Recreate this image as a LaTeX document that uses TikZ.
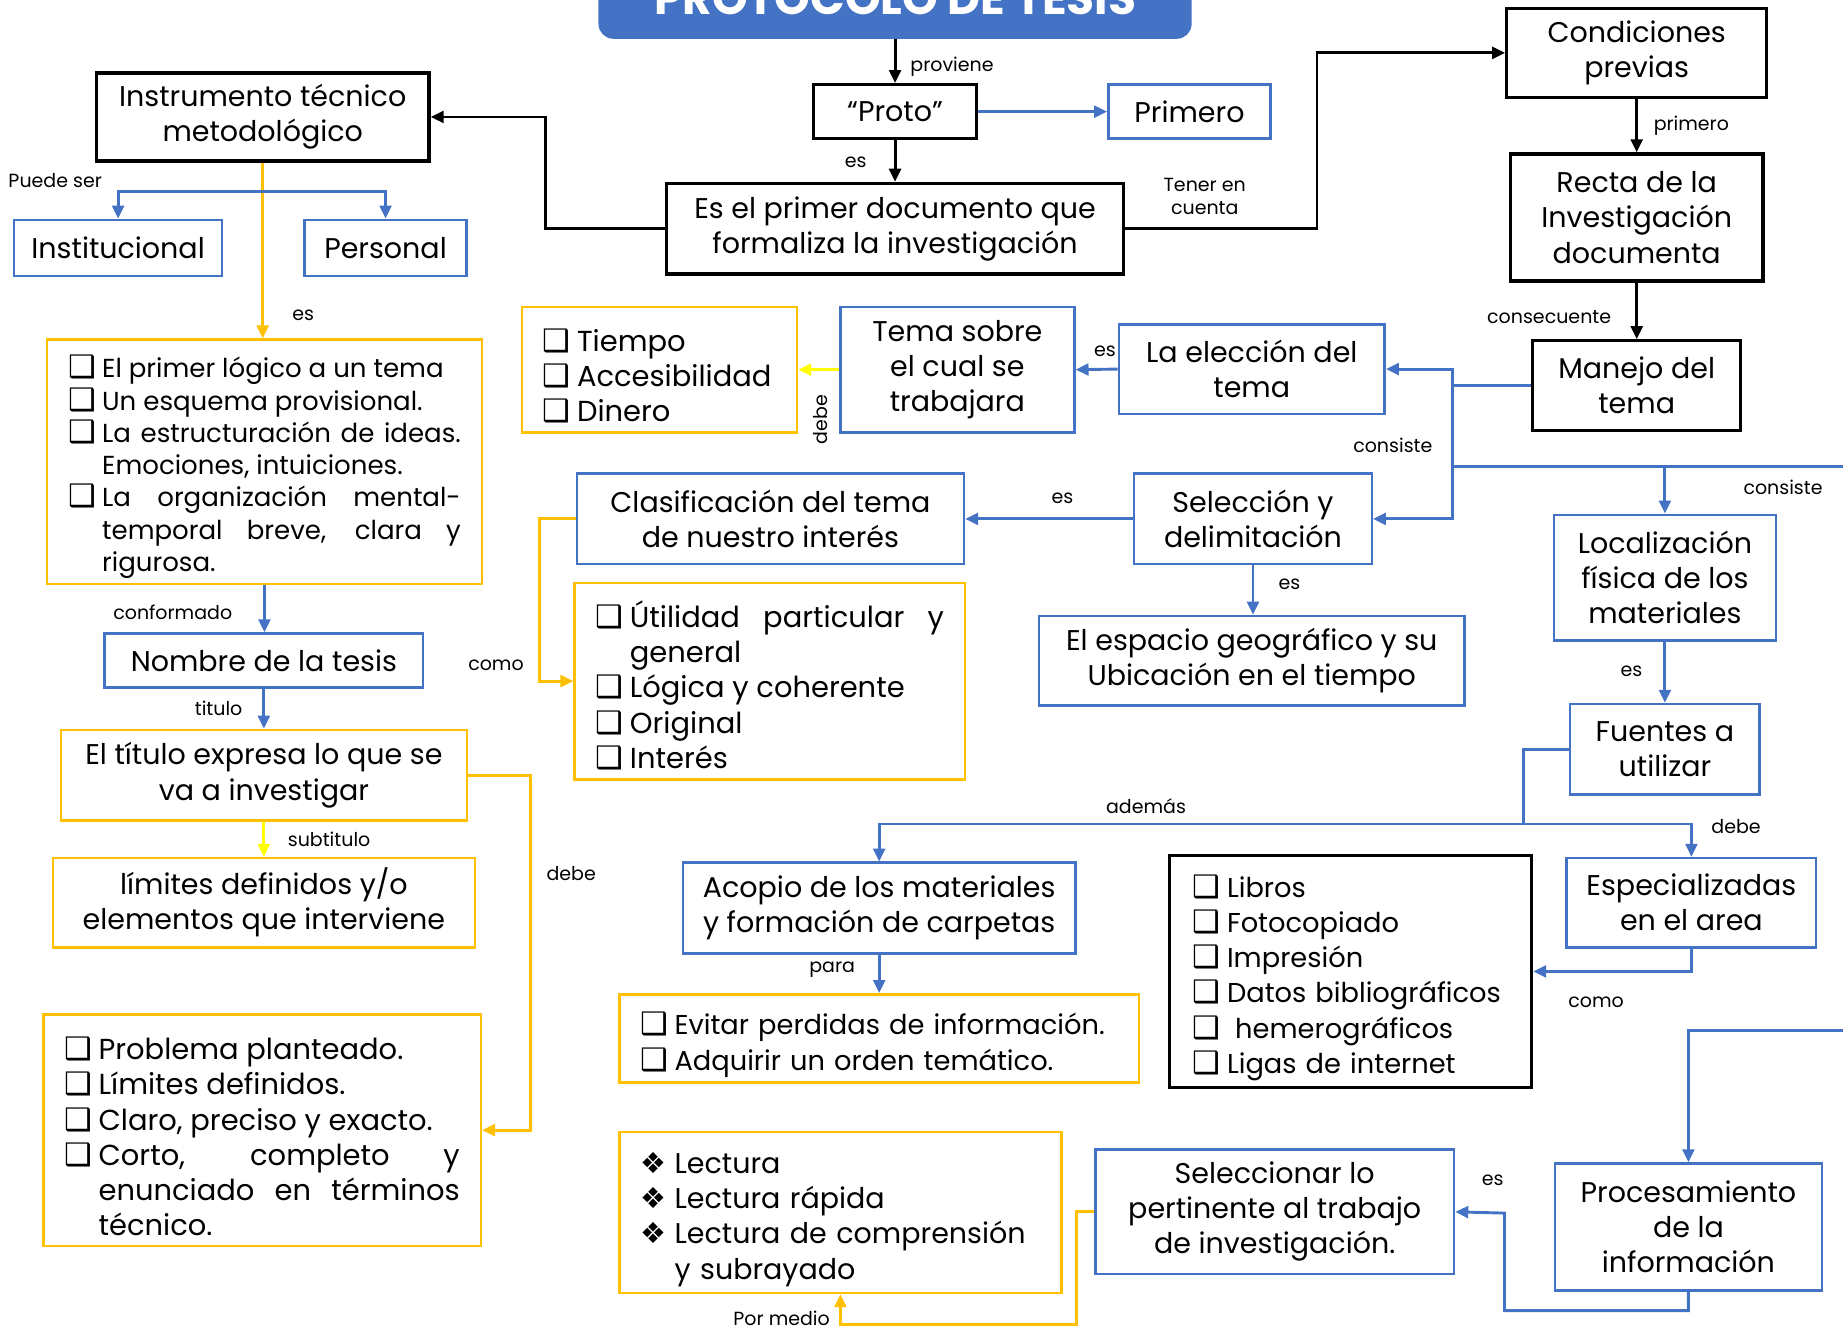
\documentclass[tikz,border=0pt]{standalone}
\usepackage{fontspec}
\setmainfont{Poppins}
\newfontfamily\simbolos{DejaVu Sans}
\usetikzlibrary{arrows.meta,calc}
\definecolor{azul}{RGB}{68,114,196}
\definecolor{naranja}{RGB}{255,192,0}
\definecolor{amarillo}{RGB}{255,255,0}
\tikzset{
  box/.style={
    draw,
    align=center,
    inner sep=0pt,
    line width=0.6pt,
    font=\fontsize{6.9}{8.5}\selectfont
  },
  box-black/.style={box, draw=black, line width=0.8pt},
  box-blue/.style={box, draw=azul},
  box-orange/.style={box, draw=naranja},
  list-orange/.style={box-orange, align=left, inner xsep=1.8mm},
  list-black/.style={box-black, align=left, inner xsep=2mm},
  title-box/.style={fill=azul, draw=azul, rounded corners=1.2mm, text=white, inner sep=0pt,
    minimum width=50.3mm, minimum height=6.7mm, font=\fontsize{11}{13}\selectfont\bfseries},
  link/.style={line width=0.7pt, -{Triangle[length=1.1mm, width=1mm]}},
  link-black/.style={link, draw=black},
  link-blue/.style={link, draw=azul},
  link-orange/.style={link, draw=naranja},
  link-yellow/.style={link, draw=amarillo},
  line-blue/.style={line width=0.7pt, draw=azul},
  lbl/.style={inner sep=0pt, font=\fontsize{4.6}{5.5}\selectfont}
}
\newcommand{\casilla}{\par\noindent\hyphenpenalty=10000\hangindent=2.9mm\hangafter=1\makebox[2.9mm][l]{\simbolos\fontsize{7.5}{7.5}\selectfont ❑}}
\newcommand{\rombo}{\par\noindent\hyphenpenalty=10000\hangindent=2.9mm\hangafter=1\makebox[2.9mm][l]{\simbolos\fontsize{7}{7}\selectfont ❖}}

\begin{document}
\begin{tikzpicture}[x=0.01cm, y=-0.01cm]
  \useasboundingbox (0,0) rectangle (1568,1130);
  \clip (0,0) rectangle (1568,1130);
  % cabecera y centro
  \node[title-box, anchor=south] (protocolo) at (761.5,33) {PROTOCOLO DE TESIS};
  \node[box-black, minimum width=13.9mm, minimum height=4.6mm] (proto) at (761.5,95) {“Proto”};
  \node[box-blue, minimum width=13.8mm, minimum height=4.6mm] (primero) at (1012,95) {Primero};
  \node[box-black, minimum width=38.9mm, minimum height=7.7mm] (documento) at (761.5,194.5) {Es el primer documento que\\formaliza la investigación};
  \node[box-black, minimum width=28.3mm, minimum height=7.5mm] (instrumento) at (223.5,99.5) {Instrumento técnico\\metodológico};
  \node[box-black, minimum width=22.1mm, minimum height=7.6mm] (condiciones) at (1392.5,45) {Condiciones\\previas};
  \node[box-black, minimum width=21.5mm, minimum height=10.8mm] (recta) at (1392.5,185) {Recta de la\\Investigación\\documenta};
  \node[box-black, minimum width=17.7mm, minimum height=7.6mm] (manejo) at (1392.5,328) {Manejo del\\tema};
  % eleccion y seleccion del tema
  \node[box-blue, minimum width=22.6mm, minimum height=7.6mm] (eleccion) at (1065,314) {La elección del\\tema};
  \node[box-blue, minimum width=19.9mm, minimum height=10.7mm] (tema) at (814.5,314.5) {Tema sobre\\el cual se\\trabajara};
  \node[list-orange, text width=19.8mm, minimum height=10.7mm, font=\fontsize{7}{8.5}\selectfont] (factores) at (561,314.5)
    {\casilla Tiempo \casilla Accesibilidad \casilla Dinero\par};
  \node[box-blue, minimum width=20.2mm, minimum height=7.7mm] (seleccion) at (1066,441.5) {Selección y\\delimitación};
  \node[box-blue, minimum width=32.9mm, minimum height=7.7mm] (clasificacion) at (655.5,441.5) {Clasificación del tema\\de nuestro interés};
  \node[list-orange, align=justify, text width=29.6mm, minimum height=16.7mm, font=\fontsize{7}{8.5}\selectfont] (cualidades) at (655,579.5)
    {\casilla Útilidad particular y\linebreak general \casilla Lógica y coherente \casilla Original \casilla Interés\par};
  \node[box-blue, minimum width=36.2mm, minimum height=7.6mm] (espacio) at (1065,562) {El espacio geográfico y su\\Ubicación en el tiempo};
  % materiales
  \node[box-blue, minimum width=18.9mm, minimum height=10.7mm] (localizacion) at (1416.5,491.5) {Localización\\física de los\\materiales};
  \node[box-blue, minimum width=16.1mm, minimum height=7.7mm] (fuentes) at (1416.5,637.5) {Fuentes a\\utilizar};
  \node[box-blue, minimum width=33.4mm, minimum height=7.7mm] (acopio) at (748,772.5) {Acopio de los materiales\\y formación de carpetas};
  \node[list-orange, text width=40.6mm, minimum height=7.5mm, font=\fontsize{6.6}{8.5}\selectfont] (evitar) at (748,883.5)
    {\casilla Evitar perdidas de información. \casilla Adquirir un orden temático.\par};
  \node[list-black, text width=26.8mm, minimum height=19.7mm, font=\fontsize{6.6}{8.5}\selectfont] (recursos) at (1149,826.5)
    {\casilla Libros \casilla Fotocopiado \casilla Impresión \casilla Datos bibliográficos \casilla\hspace{0.3em}hemerográficos \casilla Ligas de internet\par};
  \node[box-blue, minimum width=21.2mm, minimum height=7.6mm] (especializadas) at (1439,768) {Especializadas\\en el area};
  \node[box-blue, minimum width=22.7mm, minimum height=10.8mm] (procesamiento) at (1436.5,1044) {Procesamiento\\de la\\información};
  \node[box-blue, minimum width=30.5mm, minimum height=10.6mm] (pertinente) at (1084.5,1031) {Seleccionar lo\\pertinente al trabajo\\de investigación.};
  \node[list-orange, text width=34mm, minimum height=13.7mm] (lectura) at (715,1031.5)
    {\rombo Lectura \rombo Lectura rápida \rombo Lectura de comprensión\linebreak y subrayado\par};
  % columna izquierda
  \node[box-blue, minimum width=17.7mm, minimum height=4.8mm] (institucional) at (100.5,211) {Institucional};
  \node[box-blue, minimum width=13.8mm, minimum height=4.8mm] (personal) at (328,211) {Personal};
  \node[list-orange, align=justify, text width=33.4mm, minimum height=20.8mm, font=\fontsize{6.3}{7.8}\selectfont] (primer) at (225,393)
    {\casilla El primer lógico a un tema \casilla Un esquema provisional.
     \casilla La estructuración de ideas.\linebreak Emociones, intuiciones.
     \casilla La organización mental-\linebreak temporal breve, clara y\linebreak rigurosa.\par};
  \node[box-blue, minimum width=27.1mm, minimum height=4.6mm] (nombre) at (224.5,562) {Nombre de la tesis};
  \node[box-orange, minimum width=34.5mm, minimum height=7.7mm] (titulo) at (224.5,659.5) {El título expresa lo que se\\va a investigar};
  \node[box-orange, minimum width=35.9mm, minimum height=7.6mm] (limites) at (224.5,768) {límites definidos y/o\\elementos que interviene};
  \node[list-orange, align=justify, text width=33.6mm, minimum height=19.7mm, font=\fontsize{7}{8.5}\selectfont] (problema) at (223,961.5)
    {\casilla Problema planteado. \casilla Límites definidos. \casilla Claro, preciso y exacto.
     \casilla Corto, completo y\linebreak enunciado en términos\linebreak técnico.\par};

  % conexiones
  \draw[link-black] (protocolo.south) -- (proto.north);
  \draw[link-black] (proto.south) -- (documento.north);
  \draw[link-black] (documento.west) -- ++(-101,0) |- (instrumento.east);
  \draw[link-black] (documento.east) -- ++(163,0) |- (condiciones.west);
  \draw[link-black] (condiciones.south) -- (recta.north);
  \draw[link-black] (recta.south) -- (manejo.north);
  \draw[link-blue] (proto.east) -- (primero.west);
  \coordinate (ramal) at (1236,328);
  \coordinate (borde) at (1568,397);
  \draw[line-blue] (manejo.west) -- (ramal);
  \draw[link-blue] (ramal) |- (eleccion.east);
  \draw[link-blue] (ramal) |- (seleccion.east);
  \draw[line-blue] (ramal |- borde) -- (borde);
  \draw[link-blue] (localizacion.north |- borde) -- (localizacion.north);
  \draw[link-blue] (eleccion.west) -- (tema.east);
  \draw[link-yellow] (tema.west) -- (factores.east);
  \draw[link-blue] (seleccion.west) -- (clasificacion.east);
  \draw[link-blue] (seleccion.south) -- (seleccion.south |- espacio.north);
  \draw[link-orange] (clasificacion.west) -- ++(-31,0) |- (cualidades.west);
  \draw[link-blue] (localizacion.south) -- (fuentes.north);
  \coordinate (cruce) at (1296,701);
  \draw[line-blue] (fuentes.west) -| (cruce);
  \draw[link-blue] (cruce) -| (acopio.north);
  \draw[link-blue] (cruce) -| (especializadas.north);
  \draw[link-blue] (acopio.south) -- (evitar.north);
  \draw[link-blue] (especializadas.south) |- (recursos.east);
  \coordinate (borde2) at (1568,877);
  \draw[link-blue] (borde2) -| (procesamiento.north);
  \draw[link-blue] (procesamiento.south) -- ++(0,16) -| ++(-156.5,-83) -- (pertinente.east);
  \draw[link-orange] (pertinente.west) -- ++(-15,0) -- ++(0,96) -| (lectura.south);
  \coordinate (ramal3) at (224,163);
  \draw[link-orange] (instrumento.south) -- (instrumento.south |- primer.north);
  \draw[link-blue] (ramal3) -| (institucional.north);
  \draw[link-blue] (ramal3) -| (personal.north);
  \draw[link-blue] (primer.south) -- (primer.south |- nombre.north);
  \draw[link-blue] (nombre.south) -- (titulo.north);
  \draw[link-yellow] (titulo.south) -- (limites.north);
  \draw[link-orange] (titulo.east) -- ++(53,0) |- (problema.east);

  % etiquetas
  \node[lbl] (lproviene) at (810,57) {proviene};
  \node[lbl, align=center] (ltener) at (1025,167) {Tener en\\cuenta};
  \node[lbl] (lprimero) at (1439,107) {primero};
  \node[lbl] (lconsecuente) at (1318,270) {consecuente};
  \node[lbl, rotate=90] (ldebe) at (698,357) {debe};
  \node[lbl] (lademas) at (975,686) {además};
  \node[lbl] (lpara) at (708,825) {para};
  \node[lbl] (lpormedio) at (665,1122) {Por medio};
  \node[lbl] (lpuede) at (47,154) {Puede ser};
  \node[lbl] (lconformado) at (147,521) {conformado};
  \node[lbl] (ltitulo) at (186,603) {titulo};
  \node[lbl] (lsubtitulo) at (280,714) {subtitulo};
  \foreach \x/\y [count=\i] in {728/138, 940/299, 904/424, 1097/497, 1388/571, 1270/1004, 258/268}
    \node[lbl] (les\i) at (\x,\y) {es};
  \foreach \x/\y [count=\i] in {1185/379, 1517/415}
    \node[lbl] (lconsiste\i) at (\x,\y) {consiste};
  \foreach \x/\y [count=\i] in {422/566, 1358/853}
    \node[lbl] (lcomo\i) at (\x,\y) {como};
  \foreach \x/\y [count=\i] in {1477/703, 486/743}
    \node[lbl] (ldebe\i) at (\x,\y) {debe};
\end{tikzpicture}
\end{document}
